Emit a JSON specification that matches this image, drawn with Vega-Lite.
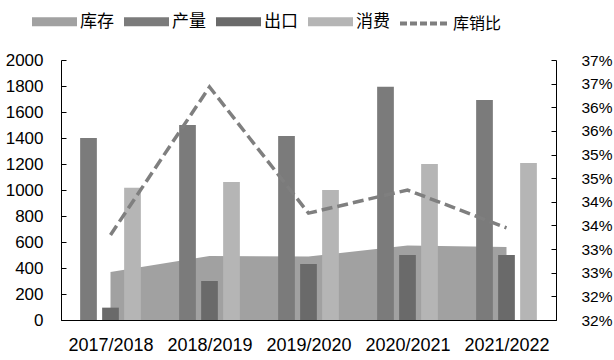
{
  "$schema": "https://vega.github.io/schema/vega-lite/v6.json",
  "autosize": "none",
  "width": 495,
  "height": 260,
  "padding": {"left": 61, "top": 60, "right": 58, "bottom": 40},
  "background": "white",
  "config": {"view": {"stroke": null}, "font": "Liberation Sans"},
  "data": {"values": [
    {"year": "2017/2018", "series": "库存", "value": 370},
    {"year": "2018/2019", "series": "库存", "value": 493},
    {"year": "2019/2020", "series": "库存", "value": 488},
    {"year": "2020/2021", "series": "库存", "value": 573},
    {"year": "2021/2022", "series": "库存", "value": 562},
    {"year": "2017/2018", "series": "产量", "value": 1400},
    {"year": "2018/2019", "series": "产量", "value": 1500},
    {"year": "2019/2020", "series": "产量", "value": 1415},
    {"year": "2020/2021", "series": "产量", "value": 1795},
    {"year": "2021/2022", "series": "产量", "value": 1692},
    {"year": "2017/2018", "series": "出口", "value": 95},
    {"year": "2018/2019", "series": "出口", "value": 300},
    {"year": "2019/2020", "series": "出口", "value": 431},
    {"year": "2020/2021", "series": "出口", "value": 500},
    {"year": "2021/2022", "series": "出口", "value": 500},
    {"year": "2017/2018", "series": "消费", "value": 1018},
    {"year": "2018/2019", "series": "消费", "value": 1062},
    {"year": "2019/2020", "series": "消费", "value": 1000},
    {"year": "2020/2021", "series": "消费", "value": 1200},
    {"year": "2021/2022", "series": "消费", "value": 1208},
    {"year": "2017/2018", "series": "库销比", "value": 0.338},
    {"year": "2018/2019", "series": "库销比", "value": 0.3693},
    {"year": "2019/2020", "series": "库销比", "value": 0.3426},
    {"year": "2020/2021", "series": "库销比", "value": 0.3475},
    {"year": "2021/2022", "series": "库销比", "value": 0.3395}
  ]},
  "layer": [
    {
      "layer": [
        {
          "transform": [{"filter": "datum.series === '库存'"}],
          "mark": {"type": "area", "interpolate": "linear"},
          "encoding": {
            "x": {
              "field": "year", "type": "nominal", "sort": null,
              "scale": {"paddingInner": 0, "paddingOuter": 0},
              "axis": {
                "orient": "bottom", "title": null, "labelAngle": 0,
                "labelFontSize": 18, "labelColor": "#000000",
                "domainColor": "#000000", "domainWidth": 1,
                "tickColor": "#000000", "tickSize": -5, "tickBand": "extent",
                "labelPadding": 21
              }
            },
            "y": {
              "field": "value", "type": "quantitative", "stack": null,
              "scale": {"domain": [0, 2000], "nice": false},
              "axis": {
                "orient": "left", "title": null, "grid": false,
                "values": [0, 200, 400, 600, 800, 1000, 1200, 1400, 1600, 1800, 2000],
                "format": "d", "labelOverlap": false,
                "labelFontSize": 17, "labelColor": "#000000",
                "domainColor": "#000000", "domainWidth": 1,
                "tickColor": "#000000", "tickSize": -5, "labelPadding": 23
              }
            },
            "fill": {
              "field": "series", "type": "nominal",
              "scale": {"domain": ["库存", "产量", "出口", "消费"], "range": ["#a1a1a1", "#7b7b7b", "#6a6a6a", "#b5b5b5"]},
              "legend": {
                "orient": "none", "legendX": -29, "legendY": -61,
                "direction": "horizontal", "title": null,
                "symbolType": "M-1,-0.2H1V0.2H-1Z", "symbolSize": 2025,
                "symbolStrokeWidth": 0, "symbolOpacity": 1,
                "labelFontSize": 17, "labelFont": "Noto Sans CJK SC",
                "labelColor": "#000000", "labelOffset": 3, "columnPadding": 10
              }
            }
          }
        },
        {
          "transform": [{"filter": "datum.series !== '库存' && datum.series !== '库销比'"}],
          "mark": {"type": "bar"},
          "encoding": {
            "x": {"field": "year", "type": "nominal", "sort": null},
            "xOffset": {
              "field": "series", "type": "nominal",
              "scale": {"domain": ["产量", "出口", "消费"], "paddingInner": 0.24, "paddingOuter": 0.87}
            },
            "y": {
              "field": "value", "type": "quantitative", "stack": null,
              "axis": {
                "orient": "left", "title": null, "grid": false,
                "values": [0, 200, 400, 600, 800, 1000, 1200, 1400, 1600, 1800, 2000],
                "format": "d", "labelOverlap": false,
                "labelFontSize": 17, "labelColor": "#000000",
                "domainColor": "#000000", "domainWidth": 1,
                "tickColor": "#000000", "tickSize": -5, "labelPadding": 23
              }
            },
            "fill": {"field": "series", "type": "nominal"}
          }
        }
      ]
    },
    {
      "transform": [{"filter": "datum.series === '库销比'"}],
      "mark": {"type": "line", "strokeDash": [11, 5], "strokeWidth": 3.5},
      "encoding": {
        "x": {"field": "year", "type": "nominal", "sort": null},
        "y": {
          "field": "value", "type": "quantitative",
          "scale": {"domain": [0.32, 0.375], "nice": false, "zero": false},
          "axis": {
            "orient": "right", "title": null, "grid": false,
            "values": [0.32, 0.325, 0.33, 0.335, 0.34, 0.345, 0.35, 0.355, 0.36, 0.365, 0.37, 0.375],
            "labelExpr": "floor(datum.value * 100 + 0.001) + '%'",
            "labelOverlap": false,
            "labelFontSize": 15.5, "labelColor": "#000000",
            "domainColor": "#000000", "domainWidth": 1,
            "tickColor": "#000000", "tickSize": -5, "labelPadding": 30
          }
        },
        "stroke": {
          "field": "series", "type": "nominal",
          "scale": {"domain": ["库销比"], "range": ["#7f7f7f"]},
          "legend": {
            "orient": "none", "legendX": 337, "legendY": -63,
            "direction": "horizontal", "title": null,
            "symbolType": "M-1,0H1", "symbolSize": 2401,
            "symbolStrokeWidth": 4, "symbolDash": [7, 3],
            "labelFontSize": 16, "labelFont": "Noto Sans CJK SC",
            "labelColor": "#000000", "labelOffset": 2
          }
        }
      }
    }
  ],
  "resolve": {"scale": {"y": "independent"}}
}
